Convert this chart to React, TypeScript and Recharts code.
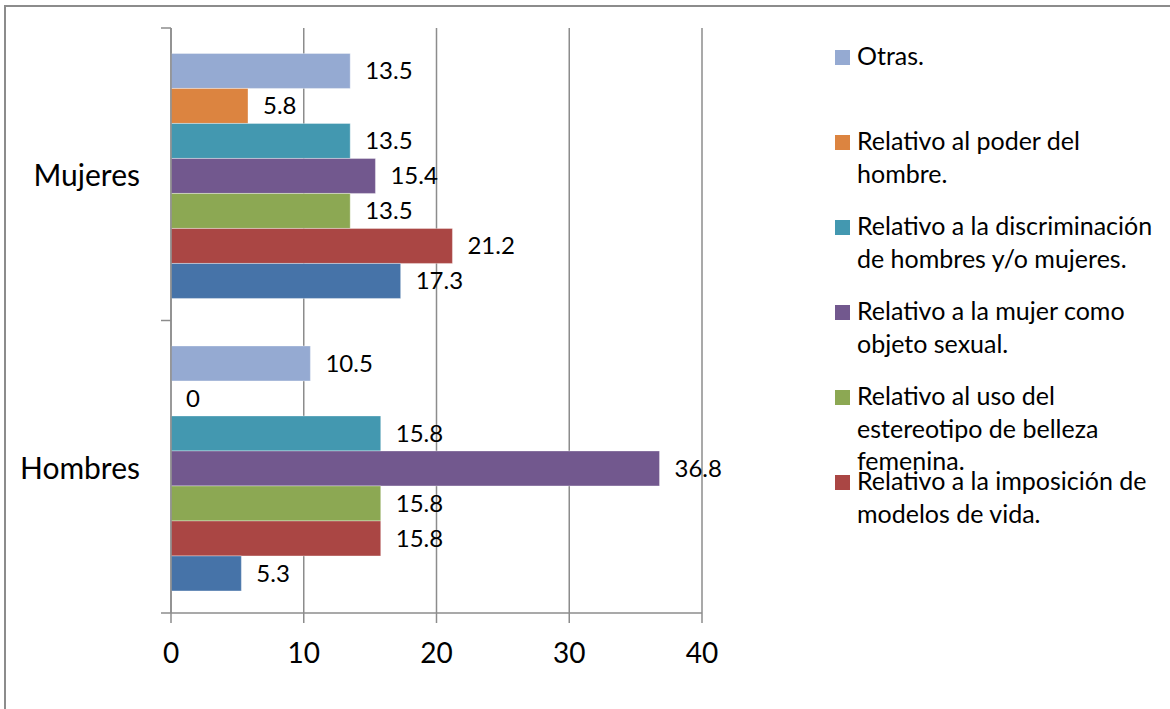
import React from "react";
import { BarChart, Bar, XAxis, YAxis, CartesianGrid, LabelList } from "recharts";

// Categories (top to bottom) and one array per series, in the order the bars stack inside a group
const categories = ["Mujeres", "Hombres"];
const otras = [13.5, 10.5];
const poderHombre = [5.8, 0];
const discriminacion = [13.5, 15.8];
const mujerObjeto = [15.4, 36.8];
const estereotipoBelleza = [13.5, 15.8];
const modelosVida = [21.2, 15.8];
const serie7 = [17.3, 5.3];

const seriesKeys = ["otras", "poder", "discriminacion", "objeto", "belleza", "modelos", "serie7"];
const seriesNames = [
  "Otras.",
  "Relativo al poder del\nhombre.",
  "Relativo a la discriminación\nde hombres y/o mujeres.",
  "Relativo a la mujer como\nobjeto sexual.",
  "Relativo al uso del\nestereotipo de belleza\nfemenina.",
  "Relativo a la imposición de\nmodelos de vida.",
  "Serie 7",
];
const seriesValues = [otras, poderHombre, discriminacion, mujerObjeto, estereotipoBelleza, modelosVida, serie7];
const seriesColors = ["#95AAD2", "#DC8440", "#4398B0", "#72588E", "#8CA853", "#AA4644", "#4673A8"];
// the last series has no room left in the legend box
const inLegend = [true, true, true, true, true, true, false];

const xTicks = [0, 10, 20, 30, 40];

const data = categories.map((c, i) => {
  const row: Record<string, string | number> = { categoria: c };
  seriesKeys.forEach((k, j) => {
    row[k] = seriesValues[j][i];
    // string copy so a zero value still gets its label
    row[k + "Label"] = String(seriesValues[j][i]);
  });
  return row;
});

const FONT = "Lato, 'Noto Sans', sans-serif";
const AXIS_GREY = "#8c8c8c";

// category name plus the tick marks on the band edges
function CategoryTick(props: any) {
  const { x, y, payload, height, visibleTicksCount } = props;
  const n = visibleTicksCount || categories.length;
  const half = (height || 585) / n / 2;
  return (
    <g>
      <line x1={x - 10} x2={x} y1={y - half} y2={y - half} stroke={AXIS_GREY} strokeWidth={1.5} />
      {payload.index === n - 1 && (
        <line x1={x - 10} x2={x} y1={y + half} y2={y + half} stroke={AXIS_GREY} strokeWidth={1.5} />
      )}
      <text x={x - 31} y={y} textAnchor="end" dominantBaseline="central" fontSize={30} fontFamily={FONT} fill="#000">
        {payload.value}
      </text>
    </g>
  );
}

function LegendBox() {
  return (
    <div style={{ position: "absolute", left: 835, top: 39, width: 335, fontFamily: FONT, fontSize: 25, color: "#000" }}>
      {seriesNames.map((name, j) =>
        inLegend[j] ? (
          <div key={name} style={{ position: "relative", height: 85 }}>
            <div style={{ position: "absolute", left: 0, top: 11, width: 15, height: 15, background: seriesColors[j] }} />
            <div style={{ position: "absolute", left: 22, top: 0, width: 320, lineHeight: "32.5px", whiteSpace: "pre-line" }}>
              {name}
            </div>
          </div>
        ) : null
      )}
    </div>
  );
}

export default function App() {
  return (
    <div style={{ position: "absolute", left: 0, top: 0, width: 1170, height: 709, overflow: "hidden", background: "#fff" }}>
      <div style={{ position: "absolute", left: 4, top: 5, width: 1300, height: 900, border: `2px solid ${AXIS_GREY}` }} />
      <div style={{ position: "absolute", left: 0, top: 0 }}>
        <BarChart
          width={1170}
          height={709}
          data={data}
          layout="vertical"
          margin={{ top: 28, right: 468, bottom: 0, left: 11 }}
          barCategoryGap="8.7%"
          barGap={0}
        >
          <CartesianGrid horizontal={false} stroke={AXIS_GREY} strokeWidth={1.5} />
          <XAxis
            type="number"
            domain={[0, 40]}
            ticks={xTicks}
            height={96}
            tickSize={10}
            tickMargin={20}
            stroke={AXIS_GREY}
            tickLine={{ stroke: AXIS_GREY, strokeWidth: 1.5 }}
            axisLine={{ stroke: AXIS_GREY, strokeWidth: 1.5 }}
            tick={{ fill: "#000", fontSize: 28, fontFamily: FONT }}
          />
          <YAxis
            type="category"
            dataKey="categoria"
            width={160}
            tickSize={0}
            tickMargin={0}
            tickLine={false}
            axisLine={{ stroke: AXIS_GREY, strokeWidth: 1.5 }}
            tick={<CategoryTick />}
          />
          {seriesKeys.map((k, j) => (
            <Bar
              key={k}
              dataKey={k}
              name={seriesNames[j]}
              fill={seriesColors[j]}
              stroke="rgba(255,255,255,0.35)"
              strokeWidth={1}
              minPointSize={0.01}
              isAnimationActive={false}
            >
              <LabelList dataKey={k + "Label"} position="right" offset={15} fill="#000" fontSize={24} fontFamily={FONT} />
            </Bar>
          ))}
        </BarChart>
      </div>
      <LegendBox />
    </div>
  );
}
